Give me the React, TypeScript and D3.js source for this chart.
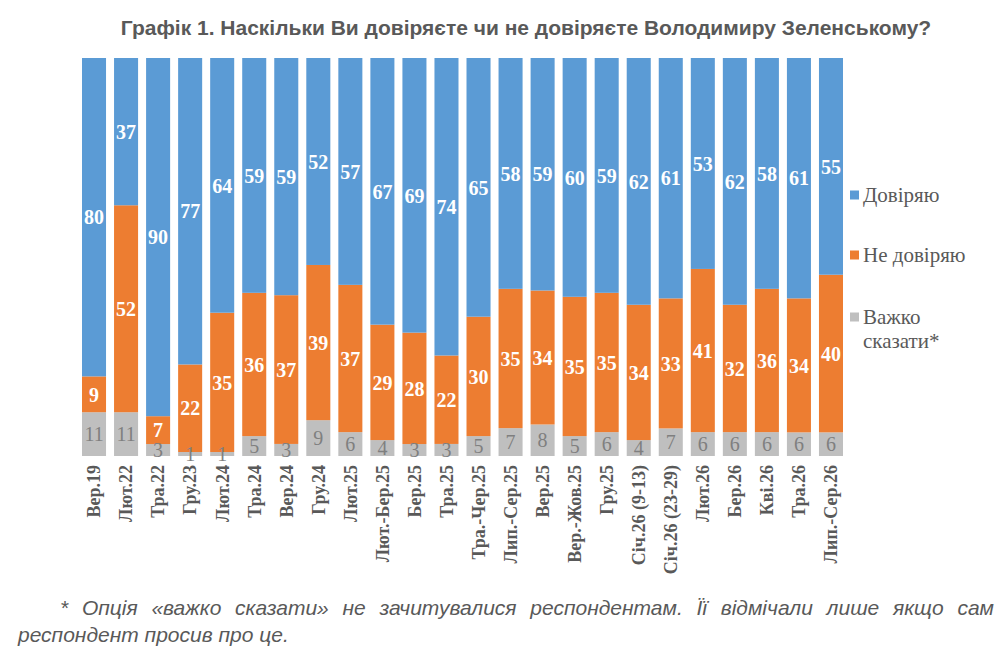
import React, { useEffect, useRef } from "react";
import * as d3 from "d3";

const categories = [
  "Вер.19", "Лют.22", "Тра.22", "Гру.23", "Лют.24", "Тра.24", "Вер.24", "Гру.24",
  "Лют.25", "Лют.-Бер.25", "Бер.25", "Тра.25", "Тра.-Чер.25", "Лип.-Сер.25", "Вер.25",
  "Вер.-Жов.25", "Гру.25", "Січ.26 (9-13)", "Січ.26 (23-29)", "Лют.26", "Бер.26", "Кві.26",
  "Тра.26", "Лип.-Сер.26",
];
const trust = [80, 37, 90, 77, 64, 59, 59, 52, 57, 67, 69, 74, 65, 58, 59, 60, 59, 62, 61, 53, 62, 58, 61, 55];
const distrust = [9, 52, 7, 22, 35, 36, 37, 39, 37, 29, 28, 22, 30, 35, 34, 35, 35, 34, 33, 41, 32, 36, 34, 40];
const hard = [11, 11, 3, 1, 1, 5, 3, 9, 6, 4, 3, 3, 5, 7, 8, 5, 6, 4, 7, 6, 6, 6, 6, 6];

const seriesNames = ["Важко сказати*", "Не довіряю", "Довіряю"];
const seriesKeys = ["hard", "distrust", "trust"];
const colors = ["#BFBFBF", "#ED7D31", "#5B9BD5"];
const labelColors = ["#7F7F7F", "#FFFFFF", "#FFFFFF"];

const title = "Графік 1. Наскільки Ви довіряєте чи не довіряєте Володимиру Зеленському?";
const footLine1 = "* Опція «важко сказати» не зачитувалися респондентам. Її відмічали лише якщо сам";
const footLine2 = "респондент просив про це.";

const W = 1005;
const H = 669;
const TEXT = "#595959";
const SERIF = '"Liberation Serif", Tinos, "Times New Roman", "DejaVu Serif"';
const SANS = '"Liberation Sans", Arimo, Arial, sans-serif';

export default function App() {
  const ref = useRef<SVGSVGElement | null>(null);

  useEffect(() => {
    const svg = d3.select(ref.current);
    svg.selectAll("*").remove();

    const rows = categories.map((c, i) => ({
      cat: c,
      trust: trust[i],
      distrust: distrust[i],
      hard: hard[i],
    }));

    const x = d3.scaleBand<string>().domain(categories).range([78, 847]).paddingInner(0.25).paddingOuter(0.125);
    const y = d3.scaleLinear().domain([0, 1]).range([456, 58]);

    const stack = d3.stack<any>().keys(seriesKeys).offset(d3.stackOffsetExpand);
    const layers = stack(rows);

    // title
    svg.append("text")
      .attr("x", 526)
      .attr("y", 35)
      .attr("text-anchor", "middle")
      .style("font-family", SANS)
      .style("font-weight", "bold")
      .style("font-size", "21px")
      .attr("fill", TEXT)
      .text(title);

    const g = svg.append("g");
    layers.forEach((layer, li) => {
      const lg = g.append("g").attr("fill", colors[li]);
      lg.selectAll("rect")
        .data(layer)
        .join("rect")
        .attr("x", (d: any) => x(d.data.cat)!)
        .attr("width", x.bandwidth())
        .attr("y", (d: any) => y(d[1]))
        .attr("height", (d: any) => y(d[0]) - y(d[1]));
    });

    layers.forEach((layer, li) => {
      const key = seriesKeys[li];
      g.append("g")
        .selectAll("text")
        .data(layer)
        .join("text")
        .attr("x", (d: any) => x(d.data.cat)! + x.bandwidth() / 2)
        .attr("y", (d: any) => (y(d[0]) + y(d[1])) / 2)
        .attr("dy", "0.36em")
        .attr("text-anchor", "middle")
        .style("font-family", SERIF)
        .style("font-weight", li === 0 ? "normal" : "bold")
        .style("font-size", "20px")
        .attr("fill", labelColors[li])
        .text((d: any) => d.data[key]);
    });

    // x-axis labels
    svg.append("g")
      .selectAll("text")
      .data(categories)
      .join("text")
      .attr("transform", (c) => `translate(${x(c)! + x.bandwidth() / 2},465) rotate(-90)`)
      .attr("dy", "0.35em")
      .attr("text-anchor", "end")
      .style("font-family", SERIF)
      .style("font-weight", "bold")
      .style("font-size", "18px")
      .attr("fill", TEXT)
      .text((c) => c);

    // legend
    const legendItems = [
      { color: colors[2], lines: [seriesNames[2]], y: 195 },
      { color: colors[1], lines: [seriesNames[1]], y: 255 },
      { color: colors[0], lines: ["Важко", "сказати*"], y: 317 },
    ];
    const leg = svg.append("g");
    legendItems.forEach((it) => {
      leg.append("rect")
        .attr("x", 850)
        .attr("y", it.y - 4.5)
        .attr("width", 9)
        .attr("height", 9)
        .attr("fill", it.color);
      it.lines.forEach((ln, k) => {
        leg.append("text")
          .attr("x", 863)
          .attr("y", it.y + k * 24)
          .attr("dy", "0.35em")
          .style("font-family", SERIF)
          .style("font-size", "21px")
          .attr("fill", TEXT)
          .text(ln);
      });
    });

    // footnote, justified first line
    const foot = svg.append("g")
      .style("font-family", SANS)
      .style("font-style", "italic")
      .style("font-size", "21px")
      .attr("fill", TEXT);
    const words = footLine1.split(" ");
    const wordNodes = words.map((w) => foot.append("text").attr("y", 615).text(w));
    const widths = wordNodes.map((n) => (n.node() as SVGTextElement).getComputedTextLength());
    const left = 60;
    const right = 994;
    const total = d3.sum(widths);
    const gap = (right - left - total) / (words.length - 1);
    let cx = left;
    wordNodes.forEach((n, i) => {
      n.attr("x", cx);
      cx += widths[i] + gap;
    });
    foot.append("text").attr("x", 18).attr("y", 642).text(footLine2);
  }, []);

  return (
    <svg
      ref={ref}
      width={W}
      height={H}
      viewBox={`0 0 ${W} ${H}`}
      style={{ position: "absolute", left: 0, top: 0, background: "#fff" }}
    />
  );
}
